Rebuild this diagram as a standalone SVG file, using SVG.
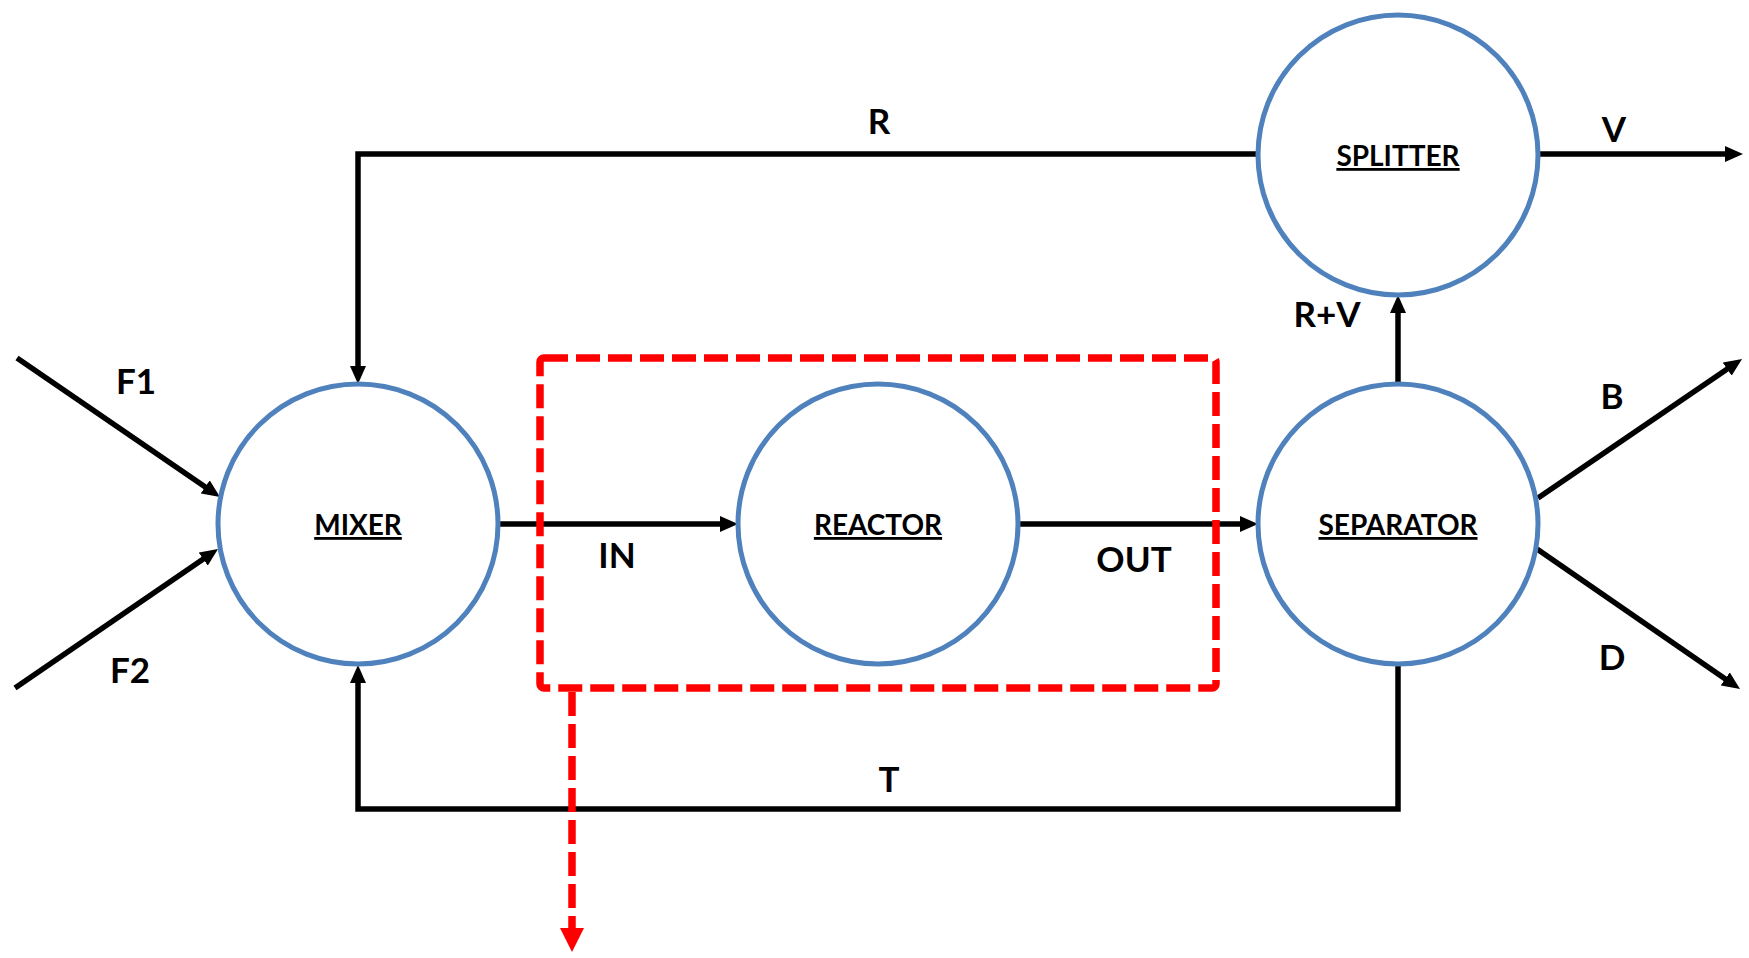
<svg xmlns="http://www.w3.org/2000/svg" width="1749" height="958" viewBox="0 0 1749 958">
<style>
.node{fill:#FFFFFF;stroke:#4F81BD;stroke-width:5}
.nlabel{font-family:Lato,"Liberation Sans",sans-serif;font-weight:bold;font-size:28px;fill:#000;text-anchor:middle;text-decoration:underline}
.elabel{font-family:Lato,"Liberation Sans",sans-serif;font-weight:bold;font-size:35px;fill:#000;text-anchor:middle}
.conn{fill:none;stroke:#000;stroke-width:5.5;marker-end:url(#ah)}
.red{fill:none;stroke:#FF0000;stroke-width:7.5;stroke-dasharray:24 8}
</style>
<defs>
<marker id="ah" markerUnits="userSpaceOnUse" viewBox="0 0 18 16" refX="9" refY="8" markerWidth="18" markerHeight="16" orient="auto">
<path d="M0,0 L18,8 L0,16 z" fill="#000"/>
</marker>
<marker id="ahr" markerUnits="userSpaceOnUse" viewBox="0 0 24 24" refX="12" refY="12" markerWidth="24" markerHeight="24" orient="auto">
<path d="M0,0 L24,12 L0,24 z" fill="#FF0000"/>
</marker>
</defs>
<rect width="1749" height="958" fill="#FFFFFF"/>
<g id="connectors">
<path class="conn" d="M1258,154 L358,154 L358,375"/>
<path class="conn" d="M1538,154 L1734,154"/>
<path class="conn" d="M1398,384 L1398,304"/>
<path class="conn" d="M1538,498 L1734.6,364"/>
<path class="conn" d="M1537,549 L1732.6,684"/>
<path class="conn" d="M1398,664 L1398,809 L358,809 L358,674"/>
<path class="conn" d="M498,524 L729,524"/>
<path class="conn" d="M1018,524 L1249,524"/>
<path class="conn" d="M17,358 L212.6,492"/>
<path class="conn" d="M15,688 L210.6,554"/>
<text class="elabel" x="879" y="134">R</text>
<text class="elabel" x="1614" y="142">V</text>
<text class="elabel" x="1327" y="327">R+V</text>
<text class="elabel" x="1612" y="409">B</text>
<text class="elabel" x="1612" y="670">D</text>
<text class="elabel" x="889" y="792">T</text>
<text class="elabel" x="617" y="568">IN</text>
<text class="elabel" x="1134" y="572">OUT</text>
<text class="elabel" x="136" y="394">F1</text>
<text class="elabel" x="130" y="683">F2</text>
</g>
<g id="mixer"><circle class="node" cx="358" cy="524" r="140"/><text class="nlabel" x="358" y="535">MIXER</text></g>
<g id="reactor"><circle class="node" cx="878" cy="524" r="140"/><text class="nlabel" x="878" y="535">REACTOR</text></g>
<g id="separator"><circle class="node" cx="1398" cy="524" r="140"/><text class="nlabel" x="1398" y="535">SEPARATOR</text></g>
<g id="splitter"><circle class="node" cx="1398" cy="155" r="140"/><text class="nlabel" x="1398" y="166">SPLITTER</text></g>
<g id="boundary">
<rect class="red" x="540" y="358" width="676" height="330" rx="4"/>
<path class="red" d="M572,692 L572,940" marker-end="url(#ahr)"/>
</g>
</svg>
